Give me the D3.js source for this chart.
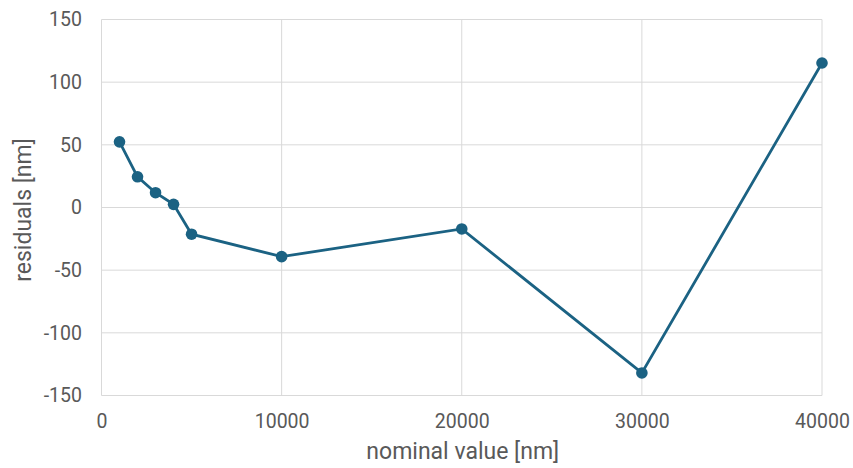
<!DOCTYPE html>
<html>
<head>
<meta charset="utf-8">
<script src="https://cdn.jsdelivr.net/npm/d3@7"></script>
<style>
    body { margin: 0; background: #fff; }
    svg text { font-family: Roboto, "Liberation Sans", Arial, sans-serif; fill: #595959; }
    .grid line { stroke: #d9d9d9; stroke-width: 1; }
    .series { fill: none; stroke: #1b6283; stroke-width: 2.8; }
    .dot { fill: #1b6283; }
</style>
</head>
<body>
<svg id="chart" width="853" height="468"></svg>
<script>
var nominal = [1000, 2000, 3000, 4000, 5000, 10000, 20000, 30000, 40000];
var residuals = [52.4, 24.5, 11.8, 2.5, -21.3, -39.2, -17.1, -132, 115.3];
var xTicks = [0, 10000, 20000, 30000, 40000];
var yTicks = [-150, -100, -50, 0, 50, 100, 150];

var svg = d3.select('#chart');
var margin = { left: 101.5, right: 31, top: 19.5, bottom: 72.5 };
var w = 853 - margin.left - margin.right,
    h = 468 - margin.top - margin.bottom;

var x = d3.scaleLinear().domain([0, 40000]).range([0, w]);
var y = d3.scaleLinear().domain([-150, 150]).range([h, 0]);

function fmt(d) { return String(d); }   // keeps the plain hyphen for negatives

var g = svg.append('g')
    .attr('transform', 'translate(' + margin.left + ',' + margin.top + ')');

// grid
var grid = g.append('g').classed('grid', true);
grid.selectAll('.h').data(yTicks).enter().append('line')
    .attr('x1', 0).attr('x2', w)
    .attr('y1', y).attr('y2', y);
grid.selectAll('.v').data(xTicks).enter().append('line')
    .attr('y1', 0).attr('y2', h)
    .attr('x1', x).attr('x2', x);

// axes (labels only)
var xAxis = g.append('g')
    .attr('transform', 'translate(0,' + h + ')')
    .call(d3.axisBottom(x).tickValues(xTicks).tickFormat(fmt).tickSize(0).tickPadding(19));
var yAxis = g.append('g')
    .call(d3.axisLeft(y).tickValues(yTicks).tickFormat(fmt).tickSize(0).tickPadding(19.5));
[xAxis, yAxis].forEach(function(a) {
    a.select('.domain').remove();
    a.selectAll('text').style('font-size', '19.5px').attr('fill', '#595959');
});

// titles
svg.append('text')
    .attr('x', margin.left + w / 2 + 1)
    .attr('y', 459)
    .attr('text-anchor', 'middle')
    .style('font-size', '23px')
    .text('nominal value [nm]');
svg.append('text')
    .attr('transform', 'translate(31,' + (margin.top + h / 2 + 2.5) + ') rotate(-90)')
    .attr('text-anchor', 'middle')
    .style('font-size', '23px')
    .text('residuals [nm]');

// series
var pts = nominal.map(function(d, i) { return [d, residuals[i]]; });
g.append('path')
    .datum(pts)
    .classed('series', true)
    .attr('d', d3.line().x(function(d) { return x(d[0]); }).y(function(d) { return y(d[1]); }));
g.selectAll('.dot').data(pts).enter().append('circle')
    .classed('dot', true)
    .attr('cx', function(d) { return x(d[0]); })
    .attr('cy', function(d) { return y(d[1]); })
    .attr('r', 5.8);
</script>
</body>
</html>
